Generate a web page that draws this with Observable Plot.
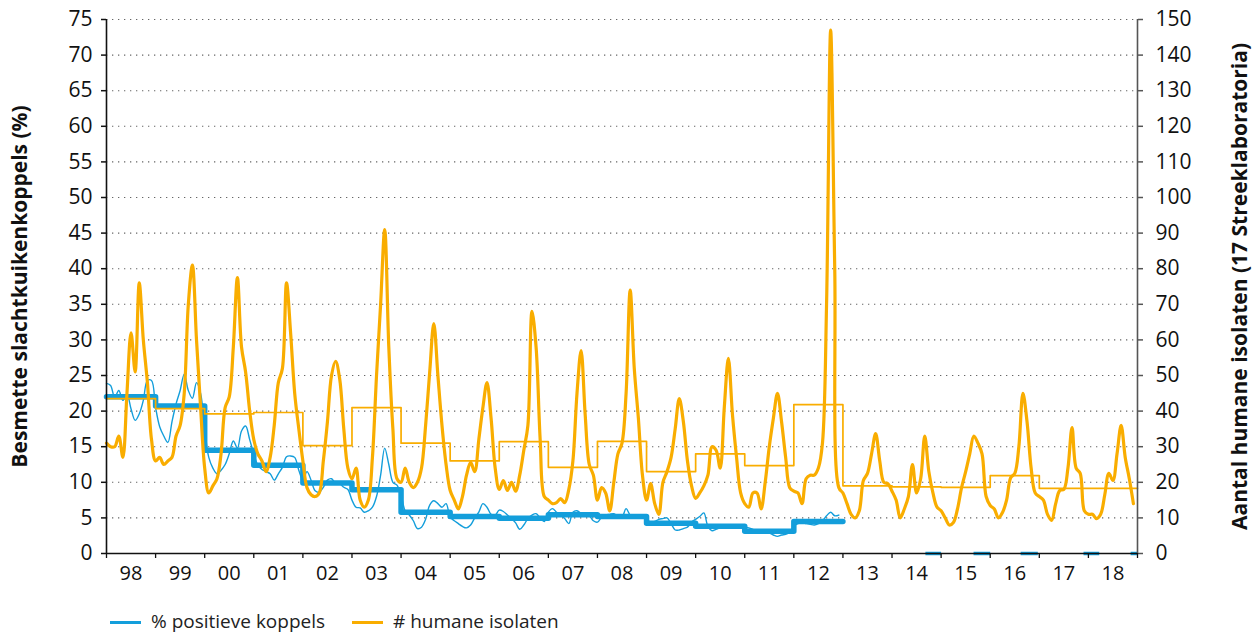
<!DOCTYPE html>
<html><head><meta charset="utf-8">
<script src="https://cdn.jsdelivr.net/npm/d3@7"></script>
<script src="https://cdn.jsdelivr.net/npm/@observablehq/plot@0.6"></script>
<style>
body{margin:0;background:#fff;font-family:"Open Sans",sans-serif;}
#legend{position:relative;width:1255px;height:39px;font-size:19px;color:#222;}
#legend .sw{position:absolute;height:2.5px;width:31px;top:26px;}
#legend .lb{position:absolute;top:13px;white-space:nowrap;}
</style></head><body><div id="chart"></div><div id="legend"></div>
<script>
// ---- data ----
const years = d3.range(1998, 2019);
const yearLabels = ["98","99","00","01","02","03","04","05","06","07","08","09","10","11","12","13","14","15","16","17","18"];

// monthly % positive broiler flocks (left axis), Jan 1998 - Dec 2012
const pctMonthly = [
  23.9, 23.6, 21.9, 22.9, 21.5, 22.4, 20.3, 18.7, 19.6, 21.5, 24.3, 24.3, // 1998
  20.5, 17.8, 16.5, 15.6, 18.5, 21.0, 22.9, 25.2, 22.9, 21.8, 24.0, 22.5, // 1999
  17.5, 13.5, 12.0, 11.2, 11.7, 12.5, 14.0, 15.8, 14.8, 17.2, 17.9, 16.0, // 2000
  14.0, 12.4, 11.8, 11.5, 11.2, 10.3, 11.2, 12.1, 13.6, 13.7, 13.5, 11.7, // 2001
  10.3, 11.5, 10.3, 8.8, 8.6, 9.3, 10.3, 10.5, 9.8, 9.8, 9.3, 9.0,         // 2002
  7.5, 6.5, 6.4, 5.8, 6.0, 6.5, 8.0, 11.0, 14.8, 12.5, 10.0, 9.6,          // 2003
  8.2, 6.0, 5.4, 4.6, 3.5, 3.7, 4.8, 6.8, 7.4, 7.0, 6.5, 7.0,              // 2004
  5.1, 4.6, 4.2, 3.8, 3.6, 4.0, 5.0, 5.8, 7.0, 6.5, 5.5, 5.4,              // 2005
  6.1, 5.9, 5.4, 4.9, 4.3, 3.4, 4.0, 4.9, 5.4, 5.6, 5.0, 4.5,              // 2006
  5.8, 6.3, 5.8, 5.4, 4.9, 4.2, 5.8, 6.0, 5.6, 5.3, 5.3, 4.6,              // 2007
  4.4, 5.1, 5.4, 5.5, 5.6, 5.2, 5.1, 6.3, 5.4, 5.1, 5.2, 5.0,              // 2008
  4.9, 4.3, 4.5, 4.8, 4.9, 5.0, 4.2, 3.3, 3.3, 3.5, 3.7, 4.4,              // 2009
  4.8, 5.2, 5.7, 3.8, 3.2, 3.4, 3.6, 3.7, 3.7, 3.6, 3.7, 3.7,              // 2010
  3.7, 3.6, 3.4, 3.0, 3.0, 3.1, 2.9, 2.6, 2.4, 2.6, 2.7, 3.0,              // 2011
  3.8, 4.2, 4.3, 4.2, 4.1, 4.0, 4.2, 4.6, 5.3, 5.8, 5.3, 5.4               // 2012
];
// yearly average % positive (thick step), 1998 - 2012
const pctYearly = [22.0, 20.7, 14.5, 12.4, 9.9, 8.95, 5.8, 5.2, 4.96, 5.43, 5.2, 4.26, 3.84, 3.12, 4.5];
// zero-valued stretches of the % series after 2012 (start, end in years)
const pctZeroStarts = [2014.68, 2015.66, 2016.62, 2017.9, 2018.86];
const pctZeroEnds   = [2015.0, 2016.0, 2016.97, 2018.22, 2019.0];

// monthly number of human isolates (right axis), Jan 1998 - Dec 2018
const humansMonthly = [
  31, 30, 30, 33, 27, 45, 62, 51, 76, 60, 48, 32,          // 1998
  26, 27, 25, 26, 27, 33, 36, 45, 70, 81, 60, 41,          // 1999
  24, 17, 19, 21, 28, 41, 44, 58, 77.5, 58, 51, 40,        // 2000
  32, 28, 26, 23, 27, 36, 48, 52, 76, 62, 45, 35,          // 2001
  26, 18.5, 16.5, 16, 17, 26, 37, 50, 54, 49, 35, 24,      // 2002
  21, 24, 15, 13, 15, 27, 50, 70, 91, 58, 35, 21,          // 2003
  20, 24, 20, 18.5, 20, 24, 36, 51, 64.6, 50, 36, 25,      // 2004
  17.7, 15, 12.5, 16, 22, 25.6, 23, 32, 41, 48, 38, 24,    // 2005
  18, 20.5, 17.7, 20, 17.5, 22, 29, 36, 68, 58, 32, 16,    // 2006
  15, 14, 14.3, 15.4, 14.3, 18, 26, 45, 57, 39, 25, 22,    // 2007
  15, 18.5, 17, 12, 20, 28, 31, 45, 74, 52, 38, 22,        // 2008
  15, 19.6, 14, 11, 20, 23, 27, 35, 43.5, 37, 26, 19,      // 2009
  15.5, 17, 19, 22, 30, 29, 24, 41, 54.8, 39, 27, 17,      // 2010
  14, 13, 17, 17, 12.5, 20, 30, 38, 45, 37, 27, 18.5,      // 2011
  17.5, 17, 14, 21, 22, 22, 24, 31, 70, 147, 80, 18.5,     // 2012
  17, 14, 11, 10, 12, 20.5, 22.5, 28, 33.7, 26, 20, 19.6,  // 2013
  17.5, 15, 10, 12.5, 16, 25, 17, 21, 33, 23, 17, 13,      // 2014
  12, 10, 8, 8.7, 12.5, 18.5, 23, 28, 33, 31, 28, 16,      // 2015
  13.5, 12.5, 10, 11.5, 15, 21.3, 22.5, 30, 45, 37, 24, 17,// 2016
  16, 15, 11, 9.3, 14, 17.7, 18, 24, 35.4, 24, 22.5, 12,   // 2017
  11, 11, 9.8, 11, 16.5, 22.5, 20.5, 28, 36, 27, 21, 14    // 2018
];
// yearly average human isolates (thin step), 1998 - 2018
const humansYearly = [43.5, 40.7, 39.2, 39.6, 30.3, 41.0, 31.0, 26.0, 31.4, 24.2, 31.5, 23.0, 28.0, 24.7, 41.8, 19.0, 18.7, 18.6, 21.9, 18.3, 18.3];

const BLUE = "#139edb", ORANGE = "#f9ad00";

// ---- build tables ----
const pctM = pctMonthly.map((v, i) => ({x: years[0] + i / 12, v}));
const humM = humansMonthly.map((v, i) => ({x: years[0] + i / 12, v}));
const stepOf = arr => {
  const t = arr.map((v, i) => ({x: years[0] + i, v}));
  t.push({x: years[0] + arr.length, v: arr[arr.length - 1]});
  return t;
};
const pctS = stepOf(pctYearly);
const humS = stepOf(humansYearly);
const zeroSeg = pctZeroStarts.map((s, i) => ({x1: s, x2: pctZeroEnds[i]}));
const xEnd = years[years.length - 1] + 1;

const chart = Plot.plot({
  width: 1255, height: 595,
  marginLeft: 106, marginRight: 118, marginTop: 19, marginBottom: 42,
  x: {domain: [years[0], xEnd]},
  y: {domain: [0, 75]},
  style: {fontFamily: "'Open Sans', sans-serif", fontSize: "21px", color: "#111", background: "#fff", overflow: "visible"},
  marks: [
    Plot.gridY(d3.range(5, 76, 5), {stroke: "#666", strokeOpacity: 1, strokeWidth: 1.1, strokeDasharray: "1.3,4.7"}),
    Plot.link(zeroSeg, {x1: "x1", x2: "x2", y1: () => 0, y2: () => 0, stroke: BLUE, strokeWidth: 3.5}),
    Plot.line(pctM, {x: "x", y: "v", stroke: BLUE, strokeWidth: 1.4, curve: "catmull-rom"}),
    Plot.line(pctS, {x: "x", y: "v", stroke: BLUE, strokeWidth: 5.5, curve: "step-after"}),
    Plot.line(humS, {x: "x", y: d => d.v / 2, stroke: ORANGE, strokeWidth: 1.7, curve: "step-after"}),
    Plot.line(humM, {x: "x", y: d => d.v / 2, stroke: ORANGE, strokeWidth: 3.2, curve: "catmull-rom"}),
    Plot.ruleY([0], {stroke: "#111", strokeWidth: 1.3}),
    Plot.ruleX([years[0]], {stroke: "#111", strokeWidth: 1.6}),
    Plot.ruleX([xEnd], {stroke: "#555", strokeWidth: 1.6}),
    Plot.axisY(d3.range(0, 76, 5), {anchor: "left", tickSize: 5, tickPadding: 9, label: null, stroke: "#111", strokeWidth: 1.5}),
    Plot.axisY(d3.range(0, 76, 5), {anchor: "right", tickSize: 5, tickPadding: 13, label: null, tickFormat: d => String(d * 2), stroke: "#555", strokeWidth: 1.5}),
    Plot.axisX(d3.range(years[0], xEnd + 1), {tickSize: 5, tickFormat: () => "", label: null, stroke: "#111", strokeWidth: 1.3}),
    Plot.axisX(years.map(y => y + 0.5), {tickSize: 0, tickPadding: 12, label: null, fontSize: 20, tickFormat: d => yearLabels[Math.floor(d) - years[0]]}),
    Plot.text(["Besmette slachtkuikenkoppels (%)"], {frameAnchor: "left", textAnchor: "middle", dx: -86, rotate: -90, fontWeight: "bold", fontSize: 21, fill: "#111"}),
    Plot.text(["Aantal humane isolaten (17 Streeklaboratoria)"], {frameAnchor: "right", textAnchor: "middle", dx: 103, rotate: -90, fontWeight: "bold", fontSize: 21, fill: "#111"})
  ]
});
document.getElementById("chart").appendChild(chart);

const legend = document.getElementById("legend");
legend.innerHTML = `
  <div class="sw" style="left:110px;background:${BLUE}"></div>
  <div class="lb" style="left:151px">% positieve koppels</div>
  <div class="sw" style="left:352px;background:${ORANGE}"></div>
  <div class="lb" style="left:393px"># humane isolaten</div>`;
</script>
</body></html>
